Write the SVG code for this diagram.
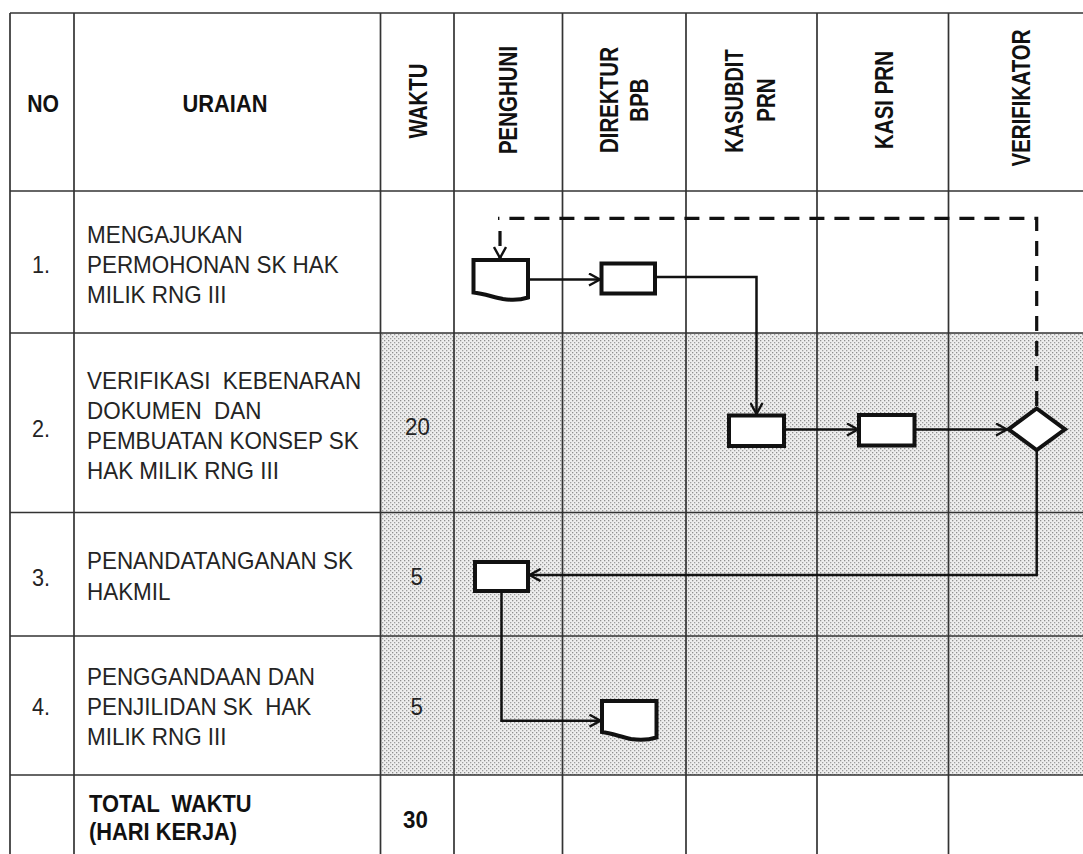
<svg xmlns="http://www.w3.org/2000/svg" width="1083" height="854" viewBox="0 0 1083 854">
<defs>
<pattern id="stip" width="4" height="4" patternUnits="userSpaceOnUse">
<rect width="4" height="4" fill="#eeeeee"/>
<rect x="0" y="0" width="1.3" height="1.3" fill="#8e8e8e"/>
<rect x="2" y="2" width="1.3" height="1.3" fill="#9e9e9e"/>
</pattern>
<marker id="arr" viewBox="0 0 13 14" refX="12" refY="7" markerWidth="13" markerHeight="14" markerUnits="userSpaceOnUse" orient="auto">
<path d="M1,1 L12,7 L1,13" fill="none" stroke="#111" stroke-width="2.4"/>
</marker>
<style>
.grid{stroke:#333;stroke-width:1.7;fill:none}
.hd{font-family:"Liberation Sans",Arial,sans-serif;font-weight:bold;font-size:23.5px;fill:#111}
.vh{font-family:"Liberation Sans",Arial,sans-serif;font-weight:bold;font-size:25px;fill:#111;text-anchor:middle}
.tx{font-family:"Liberation Sans",Arial,sans-serif;font-size:24px;fill:#242424}
.num{font-family:"Liberation Sans",Arial,sans-serif;font-size:24px;fill:#242424;text-anchor:middle}
.bd{font-family:"Liberation Sans",Arial,sans-serif;font-weight:bold;font-size:23.5px;fill:#111}
.shape{fill:#fff;stroke:#111;stroke-width:4;stroke-linejoin:miter}
.con{fill:none;stroke:#111;stroke-width:2.5}
.dash{fill:none;stroke:#111;stroke-width:3.2;stroke-dasharray:15 10}
</style>
</defs>
<rect width="1083" height="854" fill="#fff"/>
<g id="table">
<rect x="380.5" y="333" width="702.5" height="442" fill="url(#stip)"/>
<line class="grid" x1="10" y1="13" x2="1083" y2="13" stroke-width="2.6"/>
<line class="grid" x1="10" y1="191" x2="1083" y2="191"/>
<line class="grid" x1="10" y1="333" x2="1083" y2="333"/>
<line class="grid" x1="10" y1="512.5" x2="1083" y2="512.5"/>
<line class="grid" x1="10" y1="636" x2="1083" y2="636"/>
<line class="grid" x1="10" y1="775" x2="1083" y2="775"/>
<line class="grid" x1="10" y1="13" x2="10" y2="854"/>
<line class="grid" x1="74" y1="13" x2="74" y2="854"/>
<line class="grid" x1="380.5" y1="13" x2="380.5" y2="854"/>
<line class="grid" x1="454" y1="13" x2="454" y2="854"/>
<line class="grid" x1="562.5" y1="13" x2="562.5" y2="854"/>
<line class="grid" x1="686" y1="13" x2="686" y2="854"/>
<line class="grid" x1="817" y1="13" x2="817" y2="854"/>
<line class="grid" x1="948.5" y1="13" x2="948.5" y2="854"/>
</g>
<g id="header">
<text class="hd" transform="translate(43,111.5) scale(0.9,1)" text-anchor="middle">NO</text>
<text class="hd" transform="translate(225,111.5) scale(0.93,1)" text-anchor="middle">URAIAN</text>
<text class="vh" transform="translate(426.5,101) rotate(-90) scale(0.82,1)">WAKTU</text>
<text class="vh" transform="translate(516.7,100) rotate(-90) scale(0.82,1)">PENGHUNI</text>
<text class="vh" transform="translate(618.3,100) rotate(-90) scale(0.82,1)">DIREKTUR</text>
<text class="vh" transform="translate(648.3,100) rotate(-90) scale(0.82,1)">BPB</text>
<text class="vh" transform="translate(743.3,101) rotate(-90) scale(0.8,1)">KASUBDIT</text>
<text class="vh" transform="translate(775,100) rotate(-90) scale(0.82,1)">PRN</text>
<text class="vh" transform="translate(893.3,100) rotate(-90) scale(0.82,1)">KASI PRN</text>
<text class="vh" transform="translate(1030,98) rotate(-90) scale(0.82,1)">VERIFIKATOR</text>
</g>
<g id="rows">
<text class="num" transform="translate(41,272.7) scale(0.9,1)">1.</text>
<text class="tx" transform="translate(87,242.7) scale(0.935,1)">MENGAJUKAN</text>
<text class="tx" transform="translate(87,272.7) scale(0.935,1)">PERMOHONAN SK HAK</text>
<text class="tx" transform="translate(87,302.7) scale(0.935,1)">MILIK RNG III</text>
<text class="num" transform="translate(41,436.7) scale(0.9,1)">2.</text>
<text class="tx" transform="translate(87,389.3) scale(0.935,1)" xml:space="preserve">VERIFIKASI  KEBENARAN</text>
<text class="tx" transform="translate(87,419.3) scale(0.935,1)" xml:space="preserve">DOKUMEN  DAN</text>
<text class="tx" transform="translate(87,449.3) scale(0.935,1)">PEMBUATAN KONSEP SK</text>
<text class="tx" transform="translate(87,479.3) scale(0.935,1)">HAK MILIK RNG III</text>
<text class="num" transform="translate(417.5,435) scale(0.93,1)">20</text>
<text class="num" transform="translate(41,586) scale(0.9,1)">3.</text>
<text class="tx" transform="translate(87,569.3) scale(0.935,1)">PENANDATANGANAN SK</text>
<text class="tx" transform="translate(87,600) scale(0.935,1)">HAKMIL</text>
<text class="num" transform="translate(416.7,585) scale(0.93,1)">5</text>
<text class="num" transform="translate(41,715) scale(0.9,1)">4.</text>
<text class="tx" transform="translate(87,685) scale(0.935,1)">PENGGANDAAN DAN</text>
<text class="tx" transform="translate(87,715) scale(0.935,1)" xml:space="preserve">PENJILIDAN SK  HAK</text>
<text class="tx" transform="translate(87,745) scale(0.935,1)">MILIK RNG III</text>
<text class="num" transform="translate(416.7,715) scale(0.93,1)">5</text>
<text class="bd" transform="translate(89,811.7) scale(0.93,1)" xml:space="preserve">TOTAL  WAKTU</text>
<text class="bd" transform="translate(89,840) scale(0.93,1)">(HARI KERJA)</text>
<text class="bd" transform="translate(415.5,828) scale(0.95,1)" text-anchor="middle" font-size="24">30</text>
</g>
<g id="connectors">
<path id="c-dash" class="dash" d="M1036.7,406 V218.3 H498"/>
<line id="c-dash-arrow" class="dash" x1="500" y1="231" x2="500" y2="258" stroke-dasharray="12 100" marker-end="url(#arr)"/>
<line id="c1" class="con" x1="528" y1="279.5" x2="600" y2="279.5" marker-end="url(#arr)"/>
<path id="c2" class="con" d="M655,277 H756.5 V414" marker-end="url(#arr)"/>
<line id="c3" class="con" x1="784" y1="429.5" x2="858" y2="429.5" marker-end="url(#arr)"/>
<line id="c4" class="con" x1="914.5" y1="429.5" x2="1007" y2="429.5" marker-end="url(#arr)"/>
<path id="c5" class="con" d="M1036.7,450 V575 H529.5" marker-end="url(#arr)"/>
<path id="c6" class="con" d="M501.5,591 V720.7 H600.5" marker-end="url(#arr)"/>
</g>
<g id="n-doc1"><path class="shape" d="M473.5,260 L528,260 L528,297.5 C522,299.5 513,300.5 503,299 C493,297 483,293.5 473.5,292.5 Z"/></g>
<g id="n-rect1"><rect class="shape" x="601.5" y="263.5" width="53.5" height="30"/></g>
<g id="n-rect3"><rect class="shape" x="729" y="415.5" width="55" height="30.5"/></g>
<g id="n-rect4"><rect class="shape" x="859" y="415" width="55.5" height="30.5"/></g>
<g id="n-diamond"><path class="shape" d="M1036.7,408.5 L1065,429.3 L1036.7,450 L1008.5,429.3 Z"/></g>
<g id="n-rect5"><rect class="shape" x="475" y="562" width="53" height="29"/></g>
<g id="n-doc2"><path class="shape" d="M602,701 L656.5,701 L656.5,737.5 C650,739.5 641,740.5 631,739 C621,737 611,733 602,732 Z"/></g>
</svg>
